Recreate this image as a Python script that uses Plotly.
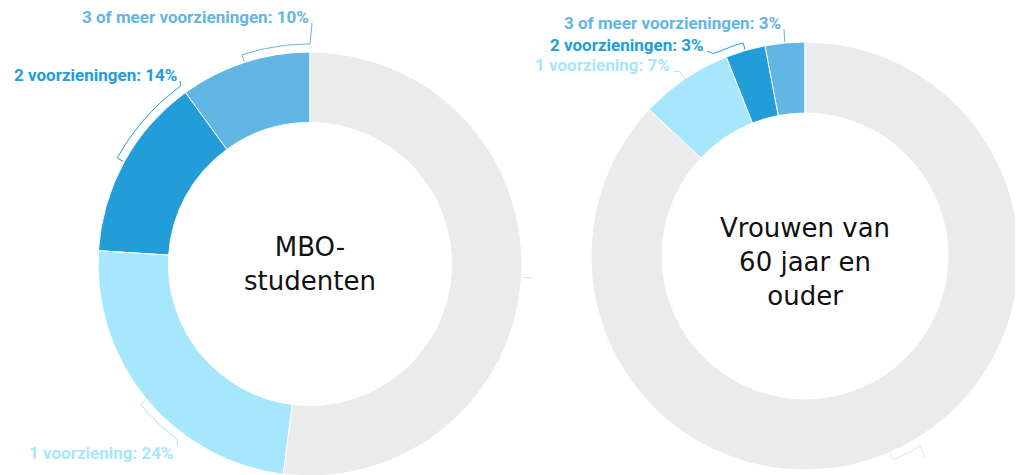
import math
import plotly.graph_objects as go

# ---------------- data ----------------
categories = ["3 of meer voorzieningen", "2 voorzieningen", "1 voorziening", "Geen voorzieningen"]
mbo_values = [10, 14, 24, 52]
vrouwen_values = [3, 3, 7, 87]
group_titles = ["MBO-<br>studenten", "Vrouwen van<br>60 jaar en<br>ouder"]
slice_colors = ["#62b6e3", "#229dd7", "#a6e7fd", "#ebebeb"]

# ---------------- layout constants ----------------
W, H = 1023, 475
OFF = 8  # page body margin: figure starts 8 px from the window edge
HOLE = 0.668
pies = [
    dict(values=mbo_values, title=group_titles[0], cx=310, cy=264, r=212, title_dy=0,
         # per slice: (label right x, label centre y, angle where connector meets arc)
         labels=[(310, 17, 0.0), (178, 75, -36.0), (175, 453, -143.0), None],
         faint=[(None, None)]),
    dict(values=vrouwen_values, title=group_titles[1], cx=805, cy=256, r=214, title_dy=6,
         labels=[(782, 23, None), (705, 45, -24.3), (671, 65, -34.0), None],
         faint=[(-211.2, (925, 458))]),
]

fig = go.Figure()


def pt(p, ang, rad):
    a = math.radians(ang)
    return p["cx"] + rad * math.sin(a), p["cy"] - rad * math.cos(a)


annotations = []
for p in pies:
    vals = p["values"]
    tot = sum(vals)
    fig.add_trace(go.Pie(
        values=vals, labels=categories, sort=False, direction="counterclockwise",
        rotation=-360 * vals[0] / tot, hole=HOLE, textinfo="none", showlegend=False,
        marker=dict(colors=slice_colors, line=dict(color="white", width=1)),
        domain=dict(x=[(p["cx"] - p["r"] - OFF) / W, (p["cx"] + p["r"] - OFF) / W],
                    y=[1 - (p["cy"] + p["r"] - OFF) / H, 1 - (p["cy"] - p["r"] - OFF) / H]),
        hovertemplate="%{label}: %{value}%<extra></extra>",
    ))
    annotations.append(dict(x=p["cx"], y=p["cy"] + p["title_dy"], xref="x", yref="y", text=p["title"],
                            showarrow=False, font=dict(family="DejaVu Sans", size=26, color="#111111"),
                            xanchor="center", yanchor="middle"))
    cum = 0
    mids = []
    for v in vals:
        mids.append(-(cum + v / 2) / tot * 360)
        cum += v
    for i, lab in enumerate(p["labels"]):
        if lab is None:
            continue
        tx, ty, arc_from = lab
        mid = mids[i]
        pm = pt(p, mid, p["r"])
        above = ty < pm[1]
        xs, ys = [tx + 2], [ty + (6 if above else -7)]
        R2 = p["r"] + 8
        a0 = mid if arc_from is None else arc_from
        n = 12
        for k in range(n + 1):
            a = a0 + (mid - a0) * k / n
            x, y = pt(p, a, R2)
            xs.append(x); ys.append(y)
        x, y = pt(p, mid, p["r"] + 1)
        xs.append(x); ys.append(y)
        fig.add_trace(go.Scatter(x=xs, y=ys, mode="lines", line=dict(color=slice_colors[i], width=1),
                                 hoverinfo="skip", showlegend=False, cliponaxis=False))
        annotations.append(dict(x=tx, y=ty, xref="x", yref="y",
                                text=f"{categories[i]}: {vals[i]}%", showarrow=False,
                                xanchor="right", yanchor="middle", borderpad=0,
                                font=dict(family="Roboto", size=17, color=slice_colors[i], weight="bold")))
    # faint connector of the (white-labelled) remainder slice
    mid = mids[3]
    arc_from, end = p["faint"][0]
    xs, ys = [], []
    x, y = pt(p, mid, p["r"] + 1); xs.append(x); ys.append(y)
    if arc_from is None:
        x, y = pt(p, mid, p["r"] + 10); xs.append(x); ys.append(y)
    else:
        n = 12
        for k in range(n + 1):
            a = mid + (arc_from - mid) * k / n
            x, y = pt(p, a, p["r"] + 8); xs.append(x); ys.append(y)
        xs.append(end[0]); ys.append(end[1])
    fig.add_trace(go.Scatter(x=xs, y=ys, mode="lines", line=dict(color="#e4e4e4", width=1),
                             hoverinfo="skip", showlegend=False, cliponaxis=False))

fig.update_layout(
    width=W, height=H, margin=dict(l=0, r=0, t=0, b=0),
    paper_bgcolor="white", plot_bgcolor="rgba(0,0,0,0)",
    xaxis=dict(range=[OFF, W + OFF], visible=False, fixedrange=True),
    yaxis=dict(range=[H + OFF, OFF], visible=False, fixedrange=True),
    annotations=annotations,
)
fig.write_html("out.html")
